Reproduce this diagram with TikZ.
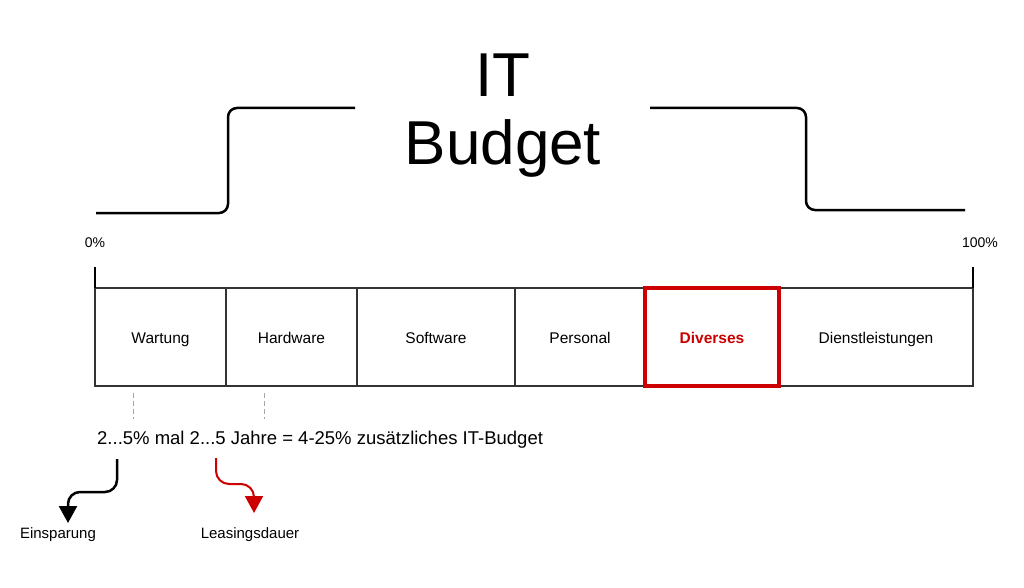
\documentclass[tikz,border=0pt]{standalone}
\usepackage{fontspec}
\setmainfont{Liberation Sans}
\usepackage{tikz}
\usetikzlibrary{positioning, arrows.meta}

\definecolor{budgetred}{HTML}{CC0000}
\definecolor{barline}{HTML}{333333}

\tikzset{
	cell/.style={draw=barline, line width=2pt, inner sep=0pt, outer sep=0pt, minimum height=98pt,
		text height=15pt, text depth=3pt,
		anchor=north west, font=\fontsize{15.5pt}{18pt}\selectfont},
	marker/.style={draw=budgetred, line width=4pt},
	guide/.style={draw=gray!70, line width=1pt, dash pattern=on 5pt off 3pt},
	flow/.style={line width=2.5pt, rounded corners=12pt, -{Triangle[width=18pt,length=17pt]}},
	small/.style={font=\fontsize{15pt}{18pt}\selectfont, inner sep=0pt},
}

\begin{document}
\begin{tikzpicture}[x=1pt, y=-1pt]
	\useasboundingbox (0,0) rectangle (1024,588);

	% Title and bracket:
	\node[font=\fontsize{62pt}{68pt}\selectfont, align=center] (title) at (503,116) {IT\\Budget};
	\draw[line width=2.5pt, rounded corners=9pt] (96,213) -- (228,213) -- (228,108) -- (355,108);
	\draw[line width=2.5pt, rounded corners=9pt] (650,108) -- (806,108) -- (806,210) -- (965,210);

	% Budget bar:
	\node[cell, minimum width=131pt] (wartung) at (95,288) {Wartung};
	\node[cell, minimum width=131pt] (hardware) at (wartung.north east) {Hardware};
	\node[cell, minimum width=158pt] (software) at (hardware.north east) {Software};
	\node[cell, minimum width=130pt] (personal) at (software.north east) {Personal};
	\node[cell, minimum width=134pt, text=budgetred,
		font=\fontsize{15.5pt}{18pt}\selectfont\bfseries] (diverses) at (personal.north east) {Diverses};
	\node[cell, minimum width=194pt] (dienst) at (diverses.north east) {Dienstleistungen};
	\draw[marker] (diverses.north west) rectangle (diverses.south east);

	% Scale:
	\node[font=\fontsize{14pt}{16pt}\selectfont] (zero) at (95,243) {0\%};
	\node[font=\fontsize{14pt}{16pt}\selectfont] (hundred) at (980,243) {100\%};
	\draw[line width=2.5pt] (wartung.north west) -- ++(0,-21);
	\draw[line width=2.5pt] (dienst.north east) -- ++(0,-21);

	% Extra budget:
	\coordinate (g1) at (133,393);
	\coordinate (g2) at (264,393);
	\draw[guide] (g1) -- ++(0,26);
	\draw[guide] (g2) -- ++(0,26);
	\node[font=\fontsize{18.5pt}{21pt}\selectfont, anchor=west, inner sep=0pt] (extra) at (97,440)
		{2...5\% mal 2...5 Jahre = 4-25\% zusätzliches IT-Budget};

	\node[small] (einsparung) at (58,535) {Einsparung};
	\node[small] (leasing) at (250,535) {Leasingsdauer};
	\coordinate (a1) at (117,459);
	\coordinate (a2) at (216,458);
	\draw[flow] (a1) -- (117,492) -- (68,492) -- (68,523);
	\draw[flow, budgetred, line width=2pt, rounded corners=13pt] (a2) -- (216,484) -- (254,484) -- (254,513);
\end{tikzpicture}
\end{document}
